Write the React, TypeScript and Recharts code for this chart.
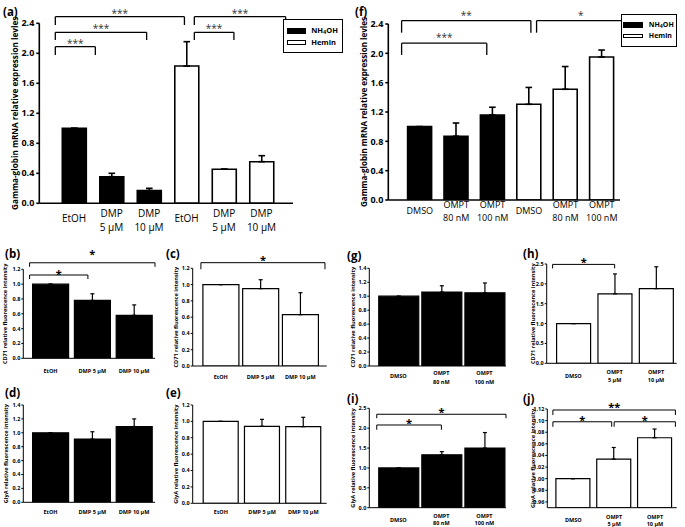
import React from 'react';
import { BarChart, Bar, XAxis, YAxis, ErrorBar, Cell, ReferenceLine, Legend } from 'recharts';

// ---------------- data ----------------
const aLabels = ['EtOH', 'DMP\n5 µM', 'DMP\n10 µM', 'EtOH', 'DMP\n5 µM', 'DMP\n10 µM'];
const aGroups = [0, 0, 0, 1, 1, 1];
const aValues = [1.0, 0.355, 0.17, 1.83, 0.455, 0.555];
const aErrors = [0, 0.045, 0.03, 0.325, 0, 0.08];

const fLabels = ['DMSO', 'OMPT\n80 nM', 'OMPT\n100 nM', 'DMSO', 'OMPT\n80 nM', 'OMPT\n100 nM'];
const fGroups = [0, 0, 0, 1, 1, 1];
const fValues = [1.0, 0.87, 1.16, 1.305, 1.51, 1.95];
const fErrors = [0, 0.18, 0.105, 0.23, 0.31, 0.095];

const dmpLabels = ['EtOH', 'DMP 5 µM', 'DMP 10 µM'];
const omptNmLabels = ['DMSO', 'OMPT\n80 nM', 'OMPT\n100 nM'];
const omptUmLabels = ['DMSO', 'OMPT\n5 µM', 'OMPT\n10 µM'];

const bValues = [1.0, 0.78, 0.58];
const bErrors = [0, 0.09, 0.14];
const cValues = [1.0, 0.95, 0.63];
const cErrors = [0, 0.11, 0.27];
const gValues = [1.0, 1.06, 1.05];
const gErrors = [0, 0.09, 0.14];
const hValues = [1.0, 1.75, 1.88];
const hErrors = [0, 0.5, 0.55];
const dValues = [1.0, 0.91, 1.09];
const dErrors = [0, 0.105, 0.11];
const eValues = [1.0, 0.94, 0.935];
const eErrors = [0, 0.085, 0.115];
const iValues = [1.0, 1.33, 1.5];
const iErrors = [0, 0.08, 0.39];
const jValues = [1.0, 1.0337, 1.0705];
const jErrors = [0, 0.02, 0.015];

const legendNames = ['NH4OH', 'Hemin'];
const groupFills = ['#000', '#fff'];

const ticks24 = [0, 0.4, 0.8, 1.2, 1.6, 2.0, 2.4];
const ticks12 = [0, 0.2, 0.4, 0.6, 0.8, 1.0, 1.2];
const ticks14 = [0, 0.2, 0.4, 0.6, 0.8, 1.0, 1.2, 1.4];
const ticks25 = [0, 0.5, 1.0, 1.5, 2.0, 2.5];
const ticksJ = [0.96, 0.98, 1.0, 1.02, 1.04, 1.06, 1.08, 1.1, 1.12];

const yLabelGamma = 'Gamma-globin mRNA relative expression levles';
const yLabelCD71 = 'CD71 relative fluorescence intensity';
const yLabelGlyA = 'GlyA relative fluorescence intensity';

// brackets: [fromIndex, toIndex, topValue, dropValue, text]
type Bracket = [number, number, number, number, string];
const aBrackets: Bracket[] = [
  [0, 2.87, 2.488, 2.377, '***'],
  [0, 2.03, 2.28, 2.177, '***'],
  [0, 0.89, 2.088, 1.977, '***'],
  [3.09, 5.12, 2.488, 2.377, '***'],
  [3.09, 3.97, 2.28, 2.177, '***'],
];
const fBrackets: Bracket[] = [
  [0, 2.96, 2.446, 2.282, '**'],
  [3.09, 5.11, 2.446, 2.282, '*'],
  [0, 1.95, 2.138, 1.978, '***'],
];
const bBrackets: Bracket[] = [
  [0, 2.0, 1.288, 1.234, '*'],
  [0, 0.93, 1.123, 1.069, '*'],
];
const cBrackets: Bracket[] = [[0, 2.08, 1.269, 1.188, '*']];
const hBrackets: Bracket[] = [[0, 1.0, 2.49, 2.39, '*']];
const iBrackets: Bracket[] = [
  [0, 2, 2.35, 2.25, '*'],
  [0, 1, 2.08, 1.96, '*'],
];
const jBrackets: Bracket[] = [
  [0, 2, 1.1183, 1.1096, '**'],
  [0, 0.96, 1.098, 1.0894, '*'],
  [1.0, 2, 1.098, 1.0894, '*'],
];

const panelLetters: [string, number, number][] = [
  ['(a)', 3, 16], ['(f)', 355, 16],
  ['(b)', 5, 258], ['(c)', 166, 258], ['(g)', 347, 260], ['(h)', 523, 258],
  ['(d)', 5, 397], ['(e)', 166, 397], ['(i)', 347, 403], ['(j)', 523, 403],
];

// ---------------- layout / style ----------------
const FONT = '"Open Sans", "DejaVu Sans", sans-serif';

interface LegendCfg {
  x: number; y: number; w: number; h: number;
  swatchX: number; swatchW: number; textX: number; rows: number[]; fs: number;
}

interface PanelCfg {
  box: [number, number, number, number];
  plot: [number, number, number, number];
  pad: [number, number];
  barSize: number;
  labels: string[];
  values: number[];
  errors: number[];
  groups: number[];
  domain: [number, number];
  ticks: number[];
  decimals: number;
  yLabel: string;
  yLabelX: number;
  yLabelSize: number;
  tickSize: number;
  tickMargin: number;
  tickFont: number;
  xFont: number;
  xWeight: number;
  xSingle: number;
  xMulti: number[];
  brackets: Bracket[];
  starGaps: number[];
  starFont: number;
  starWeight: number;
  axisWidth: number;
  barStroke: number;
  capWidth: number;
  bracketWidth: number;
  legend?: LegendCfg;
}

const small = {
  yLabelSize: 5.6, tickSize: 2, tickMargin: 1, tickFont: 5.5, xFont: 5.5, xWeight: 700,
  starFont: 11, starWeight: 700, axisWidth: 1, barStroke: 1.2, capWidth: 2, bracketWidth: 1,
};

const panels: PanelCfg[] = [
  {
    box: [0, 0, 345, 240], plot: [39.3, 23.3, 293, 203.3], pad: [16, 12.75], barSize: 24,
    labels: aLabels, values: aValues, errors: aErrors, groups: aGroups,
    domain: [0, 2.4], ticks: ticks24, decimals: 1, yLabel: yLabelGamma, yLabelX: 15, yLabelSize: 8.2,
    tickSize: 3, tickMargin: 2, tickFont: 9, xFont: 10, xWeight: 400, xSingle: 15, xMulti: [10, 24],
    brackets: aBrackets, starGaps: [6, 6.3, 6, 6, 6.3], starFont: 10, starWeight: 400,
    axisWidth: 1.6, barStroke: 1.6, capWidth: 3.3, bracketWidth: 1.3,
    legend: { x: 282.7, y: 19.3, w: 60, h: 34, swatchX: 287.3, swatchW: 19.4, textX: 311.7, rows: [31.2, 43.2], fs: 7.5 },
  },
  {
    box: [345, 0, 340, 240], plot: [388.3, 24, 620, 200], pad: [13.3, 0], barSize: 24,
    labels: fLabels, values: fValues, errors: fErrors, groups: fGroups,
    domain: [0, 2.4], ticks: ticks24, decimals: 1, yLabel: yLabelGamma, yLabelX: 363.3, yLabelSize: 8.05,
    tickSize: 3, tickMargin: 2, tickFont: 9, xFont: 9, xWeight: 400, xSingle: 10.5, xMulti: [4.5, 17],
    brackets: fBrackets, starGaps: [7.4, 7.7, 8.3], starFont: 10, starWeight: 400,
    axisWidth: 1.6, barStroke: 1.6, capWidth: 3.3, bracketWidth: 1.3,
    legend: { x: 620.7, y: 14, w: 56, h: 33, swatchX: 624, swatchW: 19.3, textX: 649.3, rows: [25.5, 36.5], fs: 7 },
  },
  {
    ...small, box: [0, 240, 168, 145], plot: [23.3, 269.3, 155, 358.3], pad: [6.3, 0], barSize: 36,
    labels: dmpLabels, values: bValues, errors: bErrors, groups: [0, 0, 0],
    domain: [0, 1.2], ticks: ticks12, decimals: 1, yLabel: yLabelCD71, yLabelX: 5,
    xSingle: 12.7, xMulti: [], brackets: bBrackets, starGaps: [11, 3.3],
  },
  {
    ...small, box: [168, 240, 172, 145], plot: [192.7, 268.3, 326.7, 366], pad: [8.2, 6.5], barSize: 36,
    labels: dmpLabels, values: cValues, errors: cErrors, groups: [1, 1, 1],
    domain: [0, 1.2], ticks: ticks12, decimals: 1, yLabel: yLabelCD71, yLabelX: 176,
    xSingle: 10.7, xMulti: [], brackets: cBrackets, starGaps: [5.4],
  },
  {
    ...small, box: [340, 240, 172, 145], plot: [369.3, 268.3, 506, 366], pad: [7.45, 0], barSize: 40,
    labels: omptNmLabels, values: gValues, errors: gErrors, groups: [0, 0, 0],
    domain: [0, 1.4], ticks: ticks14, decimals: 1, yLabel: yLabelCD71, yLabelX: 353.3,
    xSingle: 9.7, xMulti: [7.3, 15.7], brackets: [], starGaps: [],
  },
  {
    ...small, box: [512, 240, 173, 145], plot: [546.7, 264, 676.7, 363.3], pad: [5.9, 0], barSize: 34,
    labels: omptUmLabels, values: hValues, errors: hErrors, groups: [1, 1, 1],
    domain: [0, 2.5], ticks: ticks25, decimals: 1, yLabel: yLabelCD71, yLabelX: 532.7,
    xSingle: 12.7, xMulti: [8.4, 16.7], brackets: hBrackets, starGaps: [4.3],
  },
  {
    ...small, box: [0, 385, 168, 142], plot: [23.3, 405, 155, 502.3], pad: [6.3, 0], barSize: 36,
    labels: dmpLabels, values: dValues, errors: dErrors, groups: [0, 0, 0],
    domain: [0, 1.4], ticks: ticks14, decimals: 1, yLabel: yLabelGlyA, yLabelX: 6,
    xSingle: 10, xMulti: [], brackets: [], starGaps: [],
  },
  {
    ...small, box: [168, 385, 172, 142], plot: [192.7, 405, 326.7, 503.3], pad: [7.5, 2.7], barSize: 35,
    labels: dmpLabels, values: eValues, errors: eErrors, groups: [1, 1, 1],
    domain: [0, 1.2], ticks: ticks12, decimals: 1, yLabel: yLabelGlyA, yLabelX: 176,
    xSingle: 8.4, xMulti: [], brackets: [], starGaps: [],
  },
  {
    ...small, box: [340, 385, 172, 142], plot: [369.3, 408.3, 506, 507.7], pad: [7.45, 0], barSize: 40,
    labels: omptNmLabels, values: iValues, errors: iErrors, groups: [0, 0, 0],
    domain: [0, 2.5], ticks: ticks25, decimals: 1, yLabel: yLabelGlyA, yLabelX: 352.7,
    xSingle: 12.5, xMulti: [8.7, 15.6], brackets: iBrackets, starGaps: [4.3, 4],
  },
  {
    ...small, box: [512, 385, 173, 142], plot: [547.3, 409, 676.7, 507.7], pad: [5.6, 1.3], barSize: 34,
    labels: omptUmLabels, values: jValues, errors: jErrors, groups: [1, 1, 1],
    domain: [0.95, 1.12], ticks: ticksJ, decimals: 2, yLabel: yLabelGlyA, yLabelX: 532.7,
    xSingle: 12.5, xMulti: [9.3, 15.8], brackets: jBrackets, starGaps: [5, 4.4, 4.4],
  },
];

function renderName(name: string) {
  const parts = name.split(/(\d)/);
  return parts.map((p, i) =>
    /^\d$/.test(p) ? (
      <sub key={i} style={{ fontSize: '75%', verticalAlign: '-0.25em', lineHeight: 0 }}>{p}</sub>
    ) : (
      <span key={i}>{p}</span>
    )
  );
}

function LegendBox({ cfg }: { cfg: LegendCfg }) {
  const bw = 1.5;
  return (
    <div
      style={{
        position: 'relative', width: cfg.w, height: cfg.h, border: `${bw}px solid #000`,
        boxSizing: 'border-box', background: '#fff', fontFamily: FONT, fontSize: cfg.fs,
        fontWeight: 700, color: '#000',
      }}
    >
      {legendNames.map((name, i) => {
        const cy = cfg.rows[i] - cfg.y - bw;
        const sh = i === 0 ? 5.7 : 4.6;
        return (
          <React.Fragment key={name}>
            <div
              style={{
                position: 'absolute', left: cfg.swatchX - cfg.x - bw, top: cy - sh / 2,
                width: cfg.swatchW, height: sh, background: groupFills[i],
                border: i === 0 ? 'none' : '1.2px solid #000', boxSizing: 'border-box',
              }}
            />
            <div
              style={{
                position: 'absolute', left: cfg.textX - cfg.x - bw, top: cy - cfg.fs * 0.7,
                height: cfg.fs * 1.4, lineHeight: `${cfg.fs * 1.4}px`, whiteSpace: 'nowrap',
              }}
            >
              {renderName(name)}
            </div>
          </React.Fragment>
        );
      })}
    </div>
  );
}

function Panel({ c }: { c: PanelCfg }) {
  const [bl, bt, bw, bh] = c.box;
  const [pl, pt, pr, pb] = c.plot;
  const n = c.labels.length;
  const data = c.labels.map((_, i) => ({
    idx: i,
    value: c.values[i],
    err: [0, c.errors[i]],
  }));

  const renderTick = (props: any) => {
    const { x, y, payload } = props;
    const lines = c.labels[payload.value].split('\n');
    const offs = lines.length === 1 ? [c.xSingle] : c.xMulti;
    return (
      <g>
        {lines.map((ln, k) => (
          <text
            key={k}
            x={x}
            y={y + offs[k]}
            textAnchor="middle"
            dominantBaseline="central"
            fontSize={c.xFont}
            fontWeight={c.xWeight}
            fill="#000"
            fontFamily={FONT}
          >
            {ln}
          </text>
        ))}
      </g>
    );
  };

  const lx = c.yLabelX - bl;
  const ly = (pt + pb) / 2 - bt;
  const renderYLabel = () => (
    <text
      x={lx}
      y={ly}
      transform={`rotate(-90, ${lx}, ${ly})`}
      textAnchor="middle"
      dominantBaseline="central"
      fontSize={c.yLabelSize}
      fontWeight={700}
      fill="#000"
      fontFamily={FONT}
    >
      {c.yLabel}
    </text>
  );

  const lineProps = { stroke: '#000', strokeWidth: c.bracketWidth, ifOverflow: 'visible' as const, xAxisId: 'n' };

  return (
    <div style={{ position: 'absolute', left: bl, top: bt }}>
      <BarChart
        width={bw}
        height={bh}
        data={data}
        margin={{ top: pt - bt, right: bl + bw - pr, bottom: 0, left: 0 }}
        barCategoryGap={0}
      >
        <XAxis
          xAxisId="c"
          dataKey="idx"
          type="category"
          height={bt + bh - pb}
          padding={{ left: c.pad[0], right: c.pad[1] }}
          tickLine={false}
          tickSize={0}
          tickMargin={0}
          interval={0}
          axisLine={{ stroke: '#000', strokeWidth: c.axisWidth }}
          tick={renderTick}
        />
        <XAxis
          xAxisId="n"
          type="number"
          domain={[-0.5, n - 0.5]}
          allowDataOverflow
          hide
          padding={{ left: c.pad[0], right: c.pad[1] }}
        />
        <YAxis
          width={pl - bl}
          domain={c.domain}
          ticks={c.ticks}
          interval={0}
          allowDataOverflow
          tickFormatter={(v: number) => v.toFixed(c.decimals)}
          tickSize={c.tickSize}
          tickMargin={c.tickMargin}
          tickLine={{ stroke: '#000', strokeWidth: c.axisWidth }}
          axisLine={{ stroke: '#000', strokeWidth: c.axisWidth }}
          tick={{ fontSize: c.tickFont, fontWeight: 700, fill: '#000', fontFamily: FONT }}
          label={{ content: renderYLabel }}
        />
        <Bar
          xAxisId="c"
          dataKey="value"
          barSize={c.barSize}
          stroke="#000"
          strokeWidth={c.barStroke}
          isAnimationActive={false}
        >
          {data.map((_, i) => (
            <Cell key={i} fill={groupFills[c.groups[i]]} />
          ))}
          <ErrorBar
            dataKey="err"
            direction="y"
            width={c.capWidth}
            stroke="#000"
            strokeWidth={c.barStroke}
          />
        </Bar>
        {c.brackets.map(([x1, x2, yt, yb, txt], k) => (
          <ReferenceLine
            key={`h${k}`}
            {...lineProps}
            segment={[{ x: x1, y: yt }, { x: x2, y: yt }]}
            label={{
              value: txt,
              position: 'top',
              offset: c.starGaps[k] - 0.58 * c.starFont,
              fontSize: c.starFont,
              fontWeight: c.starWeight,
              fill: c.starWeight > 400 ? '#000' : '#333',
              fontFamily: FONT,
            }}
          />
        ))}
        {c.brackets.map(([x1, , yt, yb], k) => (
          <ReferenceLine key={`l${k}`} {...lineProps} segment={[{ x: x1, y: yt }, { x: x1, y: yb }]} />
        ))}
        {c.brackets.map(([, x2, yt, yb], k) => (
          <ReferenceLine key={`r${k}`} {...lineProps} segment={[{ x: x2, y: yt }, { x: x2, y: yb }]} />
        ))}
        {c.legend && (
          <Legend
            layout="horizontal"
            verticalAlign="middle"
            align="center"
            wrapperStyle={{ left: c.legend.x - bl, top: c.legend.y - bt, width: c.legend.w, height: c.legend.h }}
            content={() => <LegendBox cfg={c.legend as LegendCfg} />}
          />
        )}
      </BarChart>
    </div>
  );
}

export default function App() {
  return (
    <div
      style={{
        position: 'absolute', left: 0, top: 0, width: 685, height: 527, background: '#fff',
        fontFamily: FONT, overflow: 'hidden',
      }}
    >
      {panels.map((p, i) => (
        <Panel key={i} c={p} />
      ))}
      <svg width={685} height={527} style={{ position: 'absolute', left: 0, top: 0, pointerEvents: 'none' }}>
        {panelLetters.map(([t, x, y]) => (
          <text key={t} x={x} y={y} fontSize={11.5} fontWeight={700} fill="#000" fontFamily={FONT}>
            {t}
          </text>
        ))}
      </svg>
    </div>
  );
}
